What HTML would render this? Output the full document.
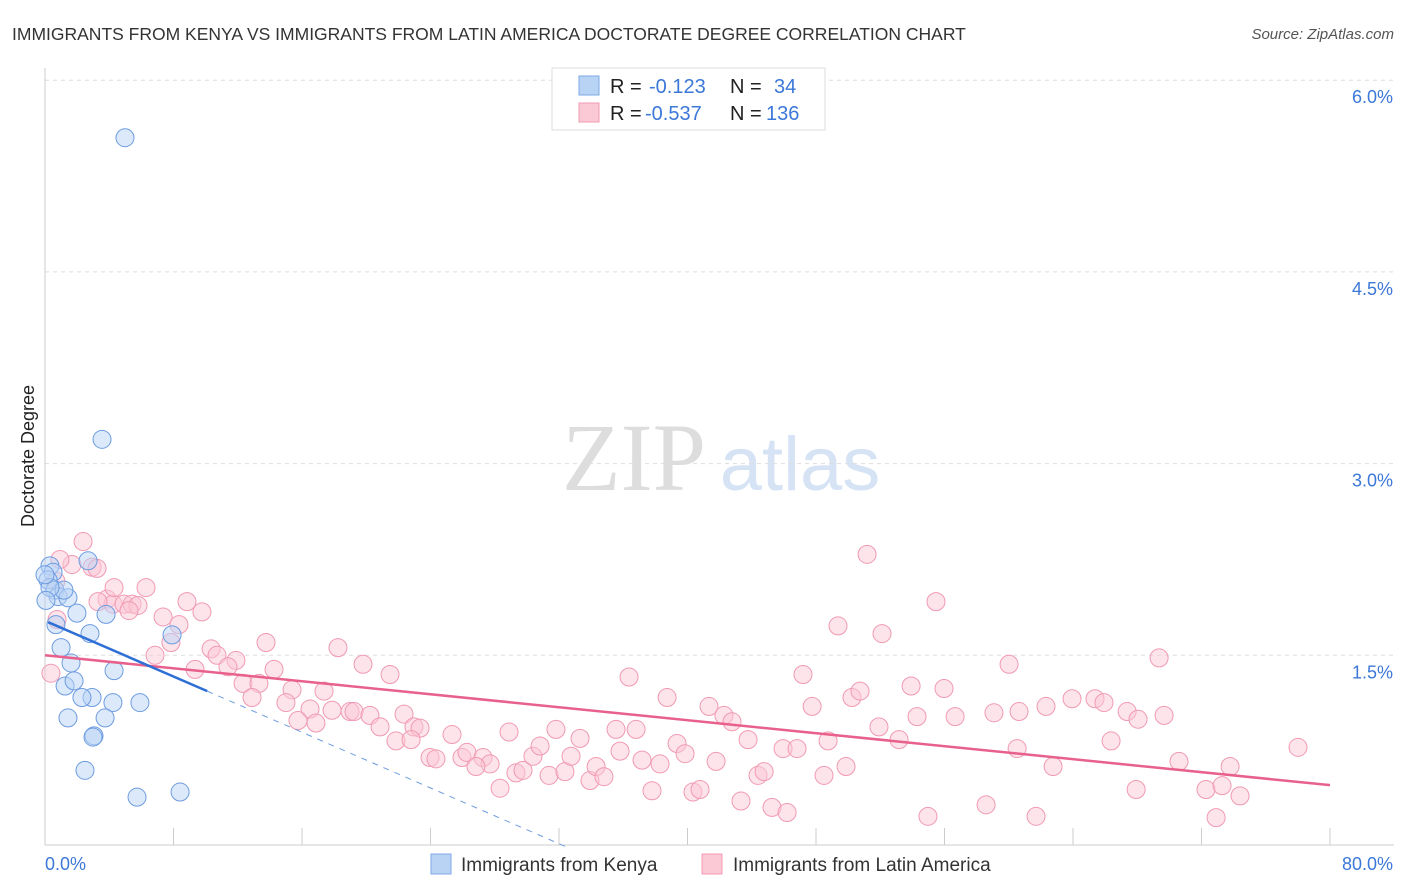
<!DOCTYPE html>
<html><head><meta charset="utf-8"><style>
body{margin:0;background:#fff;font-family:"Liberation Sans",sans-serif}
svg{display:block}
</style></head><body>
<svg id="chart" width="1406" height="892" viewBox="0 0 1406 892" xmlns="http://www.w3.org/2000/svg">
<text x="12" y="40" font-size="17.5" fill="#333">IMMIGRANTS FROM KENYA VS IMMIGRANTS FROM LATIN AMERICA DOCTORATE DEGREE CORRELATION CHART</text>
<text x="1394" y="39" font-size="15" fill="#555" font-style="italic" text-anchor="end">Source: ZipAtlas.com</text>
<g>
<text x="634" y="490" font-size="96" fill="#ddd" font-family="Liberation Serif,serif" text-anchor="middle">ZIP</text>
<text x="800" y="490" font-size="76" fill="#d6e3f5" text-anchor="middle">atlas</text>
</g>
<g id="grid"></g>
<g id="axes"></g>
<g id="marks"></g>
<g>
<rect x="552" y="68" width="273" height="62" fill="#fff" stroke="#ddd"/>
<rect x="579" y="76" width="20" height="19" fill="#b9d3f5" stroke="#7ea8e6"/>
<rect x="579" y="103" width="20" height="19" fill="#fbc8d6" stroke="#f09ab3"/>
<text y="93" font-size="20" fill="#222"><tspan x="610">R =</tspan><tspan x="649" fill="#3b78d8">-0.123</tspan><tspan x="730">N =</tspan><tspan x="774" fill="#3b78d8">34</tspan></text>
<text y="120" font-size="20" fill="#222"><tspan x="610">R =</tspan><tspan x="645" fill="#3b78d8">-0.537</tspan><tspan x="730">N =</tspan><tspan x="766" fill="#3b78d8">136</tspan></text>
</g>
<g>
<rect x="431" y="854" width="20" height="20" fill="#b9d3f5" stroke="#7ea8e6"/>
<text x="461" y="871" font-size="19" fill="#333">Immigrants from Kenya</text>
<rect x="702" y="854" width="20" height="20" fill="#fbc8d6" stroke="#f09ab3"/>
<text x="733" y="871" font-size="19" fill="#333">Immigrants from Latin America</text>
</g>
<text transform="translate(34,456) rotate(-90)" font-size="18" fill="#222" text-anchor="middle">Doctorate Degree</text>
</svg>
<script>
const yTicks=[1.5,3.0,4.5,6.0];
const yTickLabels=["1.5%","3.0%","4.5%","6.0%"];
const xTicks=[0,8,16,24,32,40,48,56,64,72,80];
const xEndLabels=["0.0%","80.0%"];
const kenyaX=[4.98,3.55,0.31,0.50,2.68,0.19,0.62,0.81,1.43,1.18,1.99,3.80,0.68,2.80,7.91,1.00,1.62,4.30,1.25,1.81,2.93,2.30,4.23,5.91,1.43,3.74,3.05,2.99,2.49,5.73,8.41,0.31,0.0,0.06];
const kenyaY=[5.55,3.19,2.20,2.15,2.24,2.09,2.01,1.96,1.95,2.01,1.83,1.82,1.74,1.67,1.66,1.56,1.44,1.38,1.26,1.30,1.17,1.17,1.13,1.13,1.01,1.01,0.87,0.86,0.60,0.39,0.43,2.03,2.13,1.93];
const latX=[2.37,1.68,2.93,3.24,0.68,6.29,3.86,4.23,4.92,5.42,5.79,8.84,9.77,7.35,8.34,0.75,7.84,13.76,18.24,10.34,10.71,6.85,11.89,9.34,11.39,19.80,14.26,21.48,36.36,47.19,60.02,69.36,51.18,55.47,49.37,52.11,12.33,13.32,15.38,17.37,12.89,15.00,16.50,15.75,16.87,17.87,18.99,19.24,20.23,20.86,22.35,22.97,23.35,21.85,22.79,23.97,24.34,25.34,25.96,26.27,27.27,27.71,26.83,28.89,28.33,29.32,29.76,30.38,30.82,31.38,31.81,32.37,32.75,33.31,33.93,34.31,34.80,35.55,35.80,36.80,37.17,37.79,38.29,38.73,39.35,39.85,40.34,40.78,41.34,41.78,42.27,42.77,43.33,43.77,44.39,44.77,45.26,45.95,46.20,46.82,47.76,48.50,48.75,49.87,50.24,50.74,51.92,53.17,53.92,54.29,54.97,55.97,56.66,58.59,59.08,60.64,60.52,61.70,62.32,62.76,63.94,65.37,65.93,66.37,67.37,67.93,68.05,69.67,70.60,72.28,72.91,73.28,73.78,74.40,78.01,0.37,0.93,4.30,5.23,3.30];
const latY=[2.39,2.21,2.19,2.18,2.08,2.03,1.94,1.90,1.90,1.90,1.89,1.92,1.84,1.80,1.74,1.78,1.60,1.60,1.56,1.55,1.50,1.50,1.46,1.39,1.41,1.43,1.39,1.35,1.33,1.35,1.43,1.48,2.29,1.92,1.73,1.67,1.28,1.28,1.23,1.22,1.17,1.13,1.08,0.99,0.97,1.07,1.06,1.06,1.03,0.94,1.04,0.94,0.93,0.83,0.84,0.70,0.69,0.88,0.70,0.74,0.70,0.65,0.63,0.90,0.46,0.58,0.60,0.71,0.79,0.56,0.92,0.59,0.71,0.85,0.52,0.63,0.55,0.92,0.75,0.92,0.68,0.44,0.65,1.17,0.81,0.73,0.43,0.45,1.10,0.67,1.03,0.98,0.36,0.84,0.56,0.59,0.31,0.77,0.27,0.77,1.10,0.56,0.83,0.63,1.17,1.22,0.94,0.84,1.26,1.02,0.24,1.24,1.02,0.33,1.05,1.06,0.77,0.24,1.10,0.63,1.16,1.16,1.13,0.83,1.06,0.45,1.00,1.03,0.67,0.45,0.23,0.48,0.63,0.40,0.78,1.36,2.25,2.03,1.85,1.92];
// fitted trend lines: [intercept, slope per %, solid end x]
const kenyaTrend=[1.77,-0.0545,10.1];
const latTrend=[1.50,-0.0127,80];
const NS="http://www.w3.org/2000/svg";
const X0=45,X1=1330,Y0=847,YPX=191.7/1.5;
const sx=v=>X0+(X1-X0)*v/80;
const sy=v=>Y0-v*YPX;
function mk(tag,attrs,parent){const e=document.createElementNS(NS,tag);for(const k in attrs)e.setAttribute(k,attrs[k]);parent.appendChild(e);return e;}
const grid=document.getElementById('grid'),axes=document.getElementById('axes'),marks=document.getElementById('marks');
yTicks.forEach((t,i)=>{
 const l=mk('line',{x1:45,x2:1394,y1:sy(t),y2:sy(t),stroke:'#ddd','stroke-dasharray':'4,4'},grid);
 
 
 const tx=mk('text',{x:1393,y:sy(t)+23,'font-size':18,fill:'#3b78d8','text-anchor':'end'},axes);
 tx.textContent=yTickLabels[i];
 
 
});
const ax=mk('line',{x1:45,x2:1394,y1:845,y2:845,stroke:'#ccc'},axes);


const ay=mk('line',{x1:45,x2:45,y1:68,y2:845,stroke:'#ccc'},axes);


xTicks.forEach(t=>{
 const l=mk('line',{x1:sx(t),x2:sx(t),y1:828,y2:845,stroke:'#ccc'},axes);
 
 
});
const xl0=mk('text',{x:45,y:870,'font-size':18,fill:'#3b78d8'},axes);xl0.textContent=xEndLabels[0];


const xl1=mk('text',{x:1393,y:870,'font-size':18,fill:'#3b78d8','text-anchor':'end'},axes);xl1.textContent=xEndLabels[1];


function pts(xs,ys,fill,stroke,name){xs.forEach((x,i)=>{const c=mk('circle',{cx:sx(x),cy:sy(ys[i]),r:9,fill:fill,'fill-opacity':0.5,stroke:stroke,'stroke-width':1},marks);
 
 });}
pts(latX,latY,'#fbc8d6','#f09ab3','latin-america-point');
pts(kenyaX,kenyaY,'#b9d3f5','#6d9ce0','kenya-point');
const [li,ls,le]=latTrend;
const lt=mk('line',{x1:sx(0),y1:sy(li),x2:sx(le),y2:sy(li+ls*le),stroke:'#e8608c','stroke-width':2.5},marks);


const [ki,ks,ke]=kenyaTrend;
const kt=mk('line',{x1:sx(0.2),y1:sy(ki+ks*0.2),x2:sx(ke),y2:sy(ki+ks*ke),stroke:'#2e6fd6','stroke-width':2.5},marks);


let xe=80; if(ki+ks*80<0) xe=-ki/ks;
const kd=mk('line',{x1:sx(ke),y1:sy(ki+ks*ke),x2:sx(xe),y2:sy(ki+ks*xe),stroke:'#6d9ce0','stroke-width':1,'stroke-dasharray':'6,6'},marks);


</script>
</body></html>
